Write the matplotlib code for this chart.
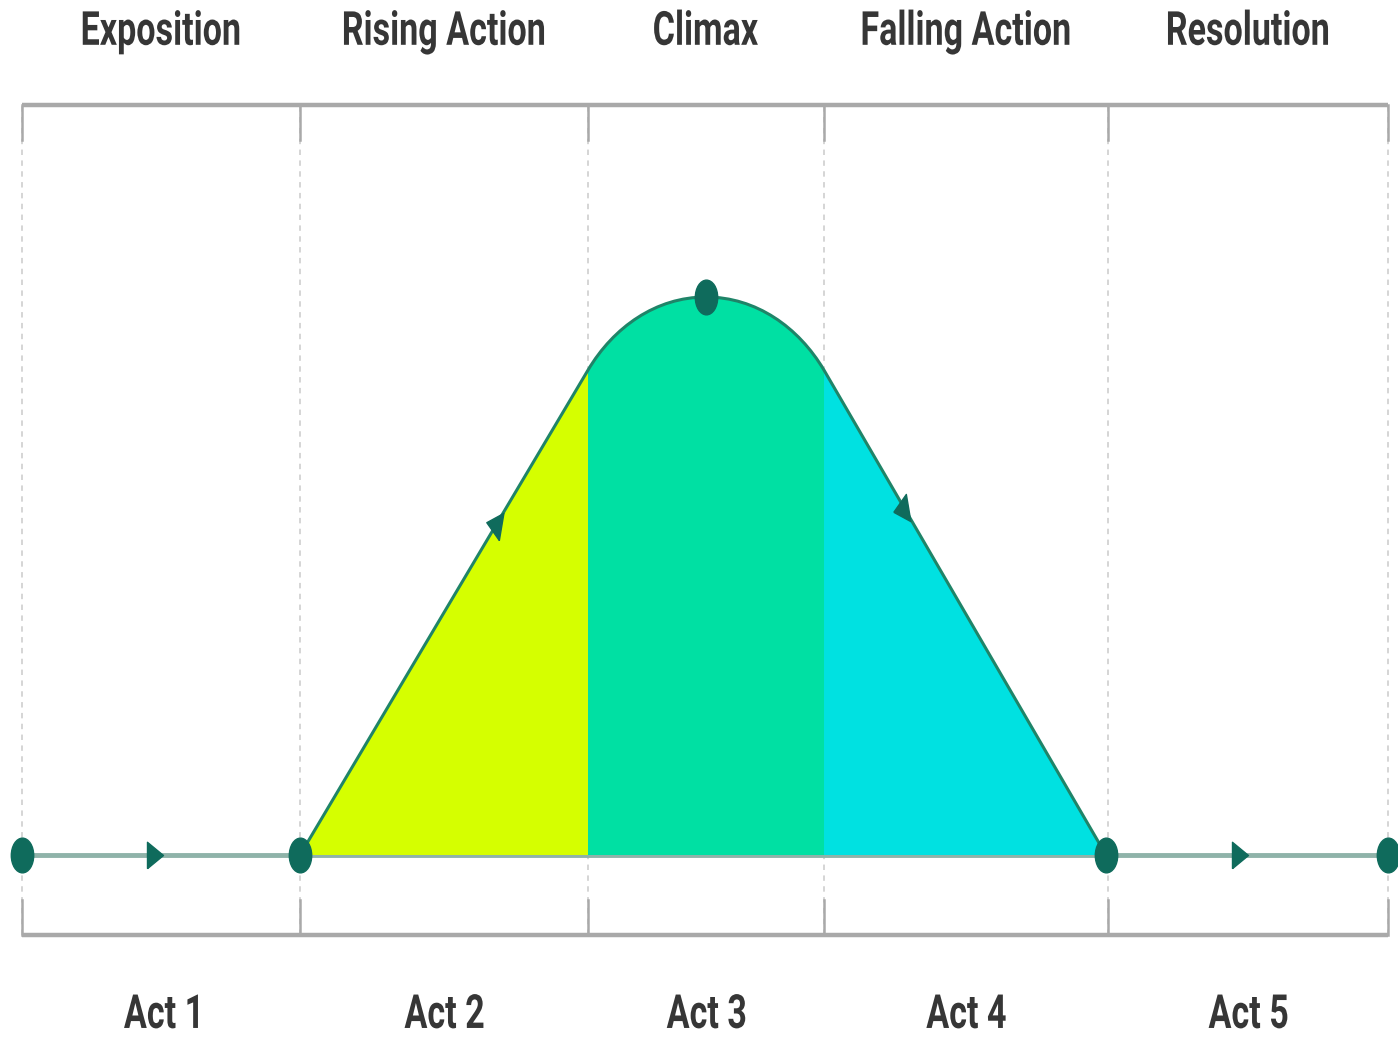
import matplotlib.pyplot as plt
import numpy as np
from matplotlib.path import Path
from matplotlib.patches import PathPatch, Rectangle
from matplotlib.transforms import Affine2D, ScaledTranslation
from matplotlib.textpath import TextPath
from matplotlib.font_manager import FontProperties

# ---------------- data ----------------
# story position (x) and tension (y, baseline 0 .. climax 100)
act_edges = [22, 300, 588, 824, 1108, 1388]
stage_names = ['Exposition', 'Rising Action', 'Climax', 'Falling Action', 'Resolution']
act_names = ['Act 1', 'Act 2', 'Act 3', 'Act 4', 'Act 5']
section_colors = ['#d5ff00', '#00e0a3', '#00e1e1']

# plot line key points
rise_start = (300, 0)
rise_end = (588, 86.9)
peak = (706, 100)
fall_start = (824, 86.9)
fall_end = (1106, 0)
# bezier handles around the climax
handle_a = (613.5, 94.6)
handle_b = (656, 100)
handle_c = (756, 100)
handle_d = (798.5, 94.6)

dot_x = [22, 300, 706, 1106, 1388]
dot_y = [0, 0, 100, 0, 0]
flat_arrow_x = [155, 1240]
rise_arrow = (498, 59.7)
fall_arrow = (905, 61.5)

bracket_top, stub_top = 134.4, 128.1
bracket_bot, stub_bot = -14.3, -8.1
label_top_base, label_bot_base = 145.2, -31.0   # text baselines

# ---------------- figure ----------------
fig = plt.figure(figsize=(13.98, 10.37), dpi=100, facecolor='white')
ax = fig.add_axes([0, 0, 1, 1])
ax.set_xlim(0, 1398)
ax.set_ylim(-32.62, 153.23)
ax.axis('off')

grid_grey = '#a9a9a9'
# dashed dividers
for x in act_edges:
    ax.plot([x, x], [bracket_bot, bracket_top], color='#d2d2d2', lw=1.3,
            ls=(0, (3, 3)), zorder=1)
    ax.plot([x, x], [stub_top, bracket_top], color=grid_grey, lw=1.8, zorder=2)
    ax.plot([x, x], [bracket_bot, stub_bot], color=grid_grey, lw=1.8, zorder=2)

ax.plot([act_edges[0], act_edges[-1]], [bracket_top, bracket_top],
        color=grid_grey, lw=3.2, solid_capstyle='butt', zorder=2)
ax.plot([act_edges[0], act_edges[-1]], [bracket_bot, bracket_bot],
        color=grid_grey, lw=3.2, solid_capstyle='butt', zorder=2)

# baseline
ax.plot([act_edges[0], act_edges[-1]], [0, 0], color='#8fb3a9', lw=3.5, zorder=3)

# ---------------- dramatic arc ----------------
verts = [rise_start, rise_end, handle_a, handle_b, peak,
         handle_c, handle_d, fall_start, fall_end]
codes = [Path.MOVETO, Path.LINETO, Path.CURVE4, Path.CURVE4, Path.CURVE4,
         Path.CURVE4, Path.CURVE4, Path.CURVE4, Path.LINETO]
arc = Path(verts, codes)
shape = Path(verts + [rise_start], codes + [Path.LINETO])

bounds = [rise_start[0], rise_end[0], fall_start[0], fall_end[0]]
for i, col in enumerate(section_colors):
    p = PathPatch(shape, facecolor=col, edgecolor='none', zorder=4)
    ax.add_patch(p)
    clip = Rectangle((bounds[i], 0), bounds[i + 1] - bounds[i], 120,
                     transform=ax.transData)
    p.set_clip_path(clip)

ax.add_patch(PathPatch(arc, facecolor='none', edgecolor='#1f8468', lw=2.2,
                       capstyle='round', joinstyle='round', zorder=5))

# ---------------- markers ----------------
dot_color = '#0f6b5c'
stretch = 1.55  # the artwork is drawn tall
ellipse = Path.unit_circle().transformed(Affine2D().scale(1 / stretch, 1.0))
ax.plot(dot_x, dot_y, ls='none', marker=ellipse, ms=25,
        color=dot_color, mec=dot_color, zorder=7)

tri0 = Path([(-0.47, -0.5), (-0.47, 0.5), (0.47, 0), (-0.47, -0.5)])


def arrow_marker(angle):
    path = tri0.transformed(Affine2D().rotate_deg(angle).scale(1, stretch))
    # keep the same physical size whatever the rotation
    size = 19.0 * np.abs(path.vertices).max() / (0.5 * stretch)
    return path, size


m, s = arrow_marker(0)
ax.plot(flat_arrow_x, [0] * len(flat_arrow_x), ls='none', marker=m, ms=s,
        color=dot_color, zorder=7)
slope = np.degrees(np.arctan(485 / stretch / 288))
m, s = arrow_marker(slope)
ax.plot(*rise_arrow, ls='none', marker=m, ms=s, color=dot_color, zorder=7)
m, s = arrow_marker(-slope)
ax.plot(*fall_arrow, ls='none', marker=m, ms=s, color=dot_color, zorder=7)

# ---------------- labels (condensed lettering) ----------------
fp = FontProperties(family='Roboto', weight='bold')
em_px, squeeze = 47, 0.725


def condensed_label(cx, base_y, txt):
    tp = TextPath((0, 0), txt, size=em_px, prop=fp)
    ext = tp.get_extents()
    tr = (Affine2D().translate(-(ext.x0 + ext.x1) / 2, 0).scale(squeeze, 1)
          + ScaledTranslation(cx, base_y, ax.transData))
    ax.add_patch(PathPatch(tp, transform=tr, facecolor='#363636',
                           edgecolor='none', zorder=8))


centers = [(a + b) / 2 for a, b in zip(act_edges[:-1], act_edges[1:])]
for cx, name, act in zip(centers, stage_names, act_names):
    condensed_label(cx, label_top_base, name)
    condensed_label(cx, label_bot_base, act)

fig.savefig('out.png', dpi=100, facecolor='white')
